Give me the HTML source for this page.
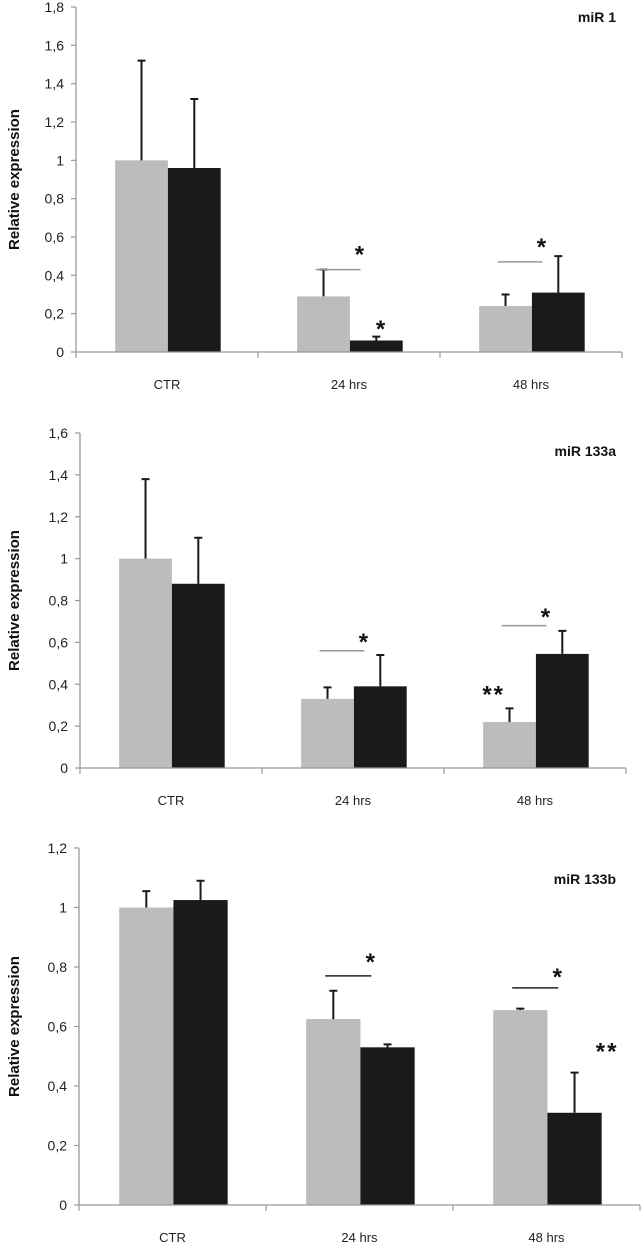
<!DOCTYPE html>
<html><head><meta charset="utf-8"><style>
body{margin:0;background:#fff;}
svg{display:block;font-family:"Liberation Sans",sans-serif;}
</style></head><body>
<svg id="fig" width="641" height="1243"></svg>
<script>
const categories = ["CTR","24 hrs","48 hrs"];
const titles = ["miR 1","miR 133a","miR 133b"];
const yMaxes = [1.8,1.6,1.2];
const grayVals1 = [1.0,0.29,0.24];
const grayErr1 = [1.52,0.43,0.30];
const blackVals1 = [0.96,0.06,0.31];
const blackErr1 = [1.32,0.08,0.50];
const grayVals2 = [1.0,0.33,0.22];
const grayErr2 = [1.38,0.385,0.285];
const blackVals2 = [0.88,0.39,0.545];
const blackErr2 = [1.10,0.54,0.655];
const grayVals3 = [1.0,0.625,0.655];
const grayErr3 = [1.055,0.72,0.66];
const blackVals3 = [1.025,0.53,0.31];
const blackErr3 = [1.09,0.54,0.445];
const tickLabels1 = ["0","0,2","0,4","0,6","0,8","1","1,2","1,4","1,6","1,8"];
const tickLabels2 = ["0","0,2","0,4","0,6","0,8","1","1,2","1,4","1,6"];
const tickLabels3 = ["0","0,2","0,4","0,6","0,8","1","1,2"];
// significance annotations: [category, bracket value, label, label value, labelPos]
const sig1 = [[1,0.43,"*",0.53,"mid"],[1,0,"*",0.14,"black"],[2,0.47,"*",0.57,"mid"]];
const sig2 = [[1,0.56,"*",0.62,"mid"],[2,0.68,"*",0.74,"mid"],[2,0,"**",0.37,"gray"]];
const sig3 = [[1,0.77,"*",0.83,"mid"],[2,0.73,"*",0.78,"mid"],[2,0,"**",0.53,"blackR"]];

const panels = [
 {x0:76,x1:622,yTop:7,yBot:352,ymax:yMaxes[0],ticks:tickLabels1,g:grayVals1,ge:grayErr1,b:blackVals1,be:blackErr1,sig:sig1,title:titles[0],ty:22},
 {x0:80,x1:626,yTop:433,yBot:768,ymax:yMaxes[1],ticks:tickLabels2,g:grayVals2,ge:grayErr2,b:blackVals2,be:blackErr2,sig:sig2,title:titles[1],ty:456},
 {x0:79,x1:640,yTop:848,yBot:1205,ymax:yMaxes[2],ticks:tickLabels3,g:grayVals3,ge:grayErr3,b:blackVals3,be:blackErr3,sig:sig3,title:titles[2],ty:884}
];
const NS="http://www.w3.org/2000/svg";
const svg=document.getElementById('fig');
function mk(tag,attrs,parent,text){const e=document.createElementNS(NS,tag);for(const k in attrs)e.setAttribute(k,attrs[k]);if(text!==undefined)e.textContent=text;(parent||svg).appendChild(e);return e;}
panels.forEach((p,pi)=>{
 const g=mk('g',{});
 
 
 const y=v=>p.yBot-(v/p.ymax)*(p.yBot-p.yTop);
 const cw=(p.x1-p.x0)/categories.length;
 const bw=cw*0.29;
 const gx=i=>p.x0+i*cw+cw*0.215;
 categories.forEach((c,i)=>{
  const r1=mk('rect',{x:gx(i),y:y(p.g[i]),width:bw,height:p.yBot-y(p.g[i]),fill:'#bcbcbc'},g);
  
  
  const r2=mk('rect',{x:gx(i)+bw,y:y(p.b[i]),width:bw,height:p.yBot-y(p.b[i]),fill:'#1a1a1a'},g);
  
  
  [[gx(i)+bw/2,p.g[i],p.ge[i]],[gx(i)+bw*1.5,p.b[i],p.be[i]]].forEach(([cx,v,e])=>{
   const eb=mk('path',{d:`M${cx} ${y(v)}V${y(e)}M${cx-4} ${y(e)}H${cx+4}`,stroke:'#1a1a1a','stroke-width':2,fill:'none'},g);
   
   
  });
  const xl=mk('text',{x:p.x0+i*cw+cw/2,y:p.yBot+37,'text-anchor':'middle','font-size':13,fill:'#222'},g,c);
  
  
 });
 const ax=mk('path',{d:`M${p.x0} ${p.yTop}V${p.yBot}M${p.x0} ${p.yBot}H${p.x1}`,stroke:'#999','stroke-width':1.3,fill:'none'},g);
 
 
 p.ticks.forEach((t,k)=>{
  const v=k*0.2, yy=y(v);
  mk('path',{d:`M${p.x0-5} ${yy}H${p.x0}`,stroke:'#999','stroke-width':1.2},g);
  const tl=mk('text',{x:p.x0-12,y:yy+5,'text-anchor':'end','font-size':14,fill:'#222'},g,t);
  
  
 });
 for(let i=0;i<=categories.length;i++){
  mk('path',{d:`M${p.x0+i*cw} ${p.yBot}V${p.yBot+6}`,stroke:'#999','stroke-width':1.2},g);
 }
 const yt=mk('text',{transform:`translate(19,${(p.yTop+p.yBot)/2}) rotate(-90)`,'text-anchor':'middle','font-size':15,'font-weight':'bold',fill:'#111'},g,'Relative expression');
 
 
 const tt=mk('text',{x:616,y:p.ty,'text-anchor':'end','font-size':14,'font-weight':'bold',fill:'#111'},g,p.title);
 
 
 p.sig.forEach(([ci,lv,lab,sv,pos])=>{
  let sx;
  if(pos==='mid'){
   const lx1=gx(ci)+bw*0.35, lx2=gx(ci)+bw*1.2;
   const ln=mk('path',{d:`M${lx1} ${y(lv)}H${lx2}`,stroke:pi===2?'#222':'#999','stroke-width':1.5},g);
   
   
   sx=gx(ci)+bw*1.2;
  } else if(pos==='black'){sx=gx(ci)+bw*1.6;}
  else if(pos==='gray'){sx=gx(ci)+bw*0.2;}
  else {sx=gx(ci)+bw*2.1;}
  const st=mk('text',{x:sx,y:y(sv)+12,'text-anchor':'middle','font-size':24,'font-weight':'bold',fill:'#111','letter-spacing':2},g,lab);
  
  
 });
});
</script>
</body></html>
